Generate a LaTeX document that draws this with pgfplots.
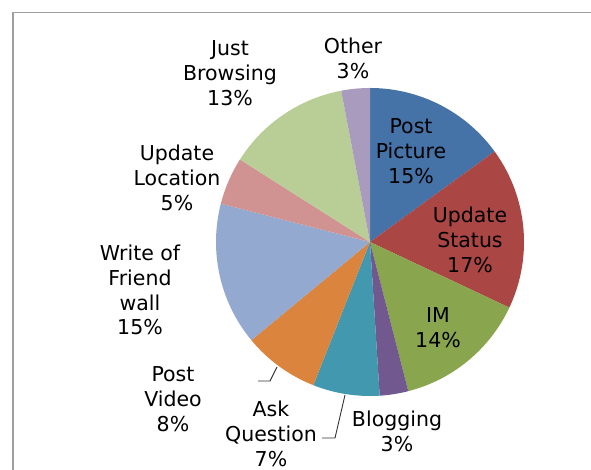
\documentclass[border=0pt]{standalone}
\usepackage{pgfplots}
\pgfplotsset{compat=1.18}
\usepackage{fontspec}
\setmainfont{DejaVu Sans}
\definecolor{c1}{HTML}{4572A7}
\definecolor{c2}{HTML}{AA4643}
\definecolor{c3}{HTML}{89A54E}
\definecolor{c4}{HTML}{71588F}
\definecolor{c5}{HTML}{4198AF}
\definecolor{c6}{HTML}{DB843D}
\definecolor{c7}{HTML}{93A9CF}
\definecolor{c8}{HTML}{D19392}
\definecolor{c9}{HTML}{B9CD96}
\definecolor{c10}{HTML}{A99BBD}
\newcommand{\lblfont}{\fontsize{20.5}{24.8}\selectfont}
\tikzset{lbl/.style={font=\lblfont, align=center, inner sep=0pt, text=black}}
% slice: #1 cumulative start %, #2 cumulative end %, #3 colour
\newcommand{\slice}[3]{%
  \addplot[draw=none, fill=#3, domain=90-3.6*#2:90-3.6*#1, samples=90]
    ({370+154*cos(x)},{228+154*sin(x)}) -- (axis cs:370,228) -- cycle;}
\begin{document}
\begin{tikzpicture}
\begin{axis}[scale only axis, width=591pt, height=470pt,
  xmin=0, xmax=591, ymin=0, ymax=470, hide axis, clip=false]
% frame
\addplot[draw=gray!75, line width=1.5pt] coordinates {(13,0) (13,457.5) (591,457.5)};
% percentages: 15 17 14 3 7 8 15 5 13 3 (cumulative)
\slice{0}{15}{c1}
\slice{15}{32}{c2}
\slice{32}{46}{c3}
\slice{46}{49}{c4}
\slice{49}{56}{c5}
\slice{56}{64}{c6}
\slice{64}{79}{c7}
\slice{79}{84}{c8}
\slice{84}{97}{c9}
\slice{97}{100}{c10}
% leader lines
\addplot[draw=black!80, line width=0.9pt] coordinates {(258,89) (270,89) (277,103)};
\addplot[draw=black!80, line width=0.9pt] coordinates {(322,32) (335,32) (345,75)};
% labels
\node[lbl] at (axis cs:411,319) {Post\\Picture\\15\%};
\node[lbl] at (axis cs:470,230) {Update\\Status\\17\%};
\node[lbl] at (axis cs:438,142) {IM\\14\%};
\node[lbl] at (axis cs:397,39) {Blogging\\3\%};
\node[lbl] at (axis cs:271,36) {Ask\\Question\\7\%};
\node[lbl] at (axis cs:173,71) {Post\\Video\\8\%};
\node[lbl] at (axis cs:140,180) {Write of\\Friend\\wall\\15\%};
\node[lbl] at (axis cs:177,292) {Update\\Location\\5\%};
\node[lbl] at (axis cs:230,397) {Just\\Browsing\\13\%};
\node[lbl] at (axis cs:353,412) {Other\\3\%};
\end{axis}
\pgfresetboundingbox
\useasboundingbox (0,0) rectangle (591pt,470pt);
\end{tikzpicture}
\end{document}
